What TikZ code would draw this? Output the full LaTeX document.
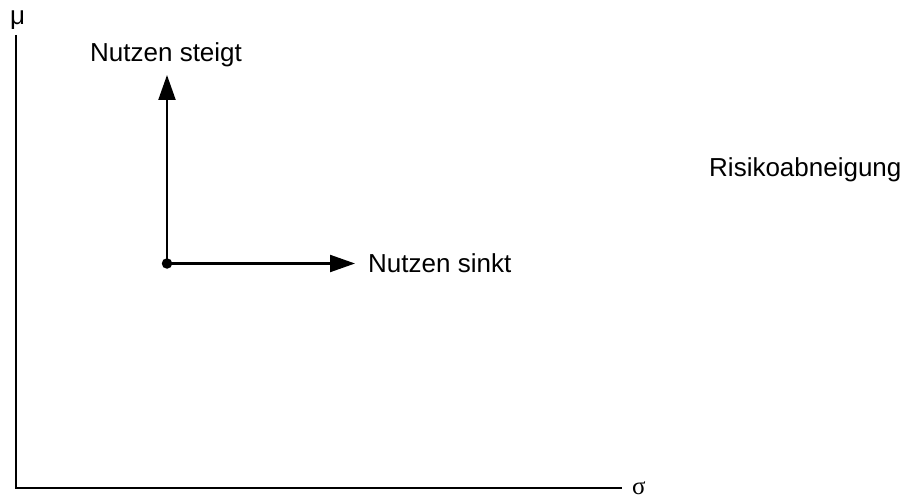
\documentclass[tikz,border=0pt]{standalone}
\usepackage{fontspec}
\setmainfont{Liberation Sans}
\newfontfamily\serifgreek{Liberation Serif}
\usetikzlibrary{arrows.meta}
\begin{document}
\begin{tikzpicture}[x=1pt,y=-1pt,
  axis/.style={line width=2.4pt},
  vec/.style={line width=2.2pt,-{Triangle[length=25pt,width=17pt]}},
  lbl/.style={anchor=base west,inner sep=0pt,font=\fontsize{26}{30}\selectfont}]
\useasboundingbox (0,0) rectangle (907,497);
% axes
\coordinate (ytop) at (16,35);
\coordinate (orig) at (16,488);
\coordinate (xend) at (622,488);
\draw[axis] (ytop) -- (orig) -- (xend);
\node[lbl] (mu) at (10,25) {μ};
\node[lbl,font=\fontsize{25}{30}\serifgreek] (sigma) at (632,494) {σ};
% point with its two directions
\node[circle,fill=black,inner sep=0pt,minimum size=10.5pt] (p) at (167,263.5) {};
\coordinate (uptip) at (167,75);
\coordinate (righttip) at (355,263.5);
\draw[vec] (p.center) -- (uptip);
\draw[vec] (p.center) -- (righttip);
\node[lbl] (steigt) at (90,62) {Nutzen steigt};
\node[lbl] (sinkt) at (368,272) {Nutzen sinkt};
\node[lbl] (risk) at (709,177) {Risikoabneigung};
\end{tikzpicture}
\end{document}
